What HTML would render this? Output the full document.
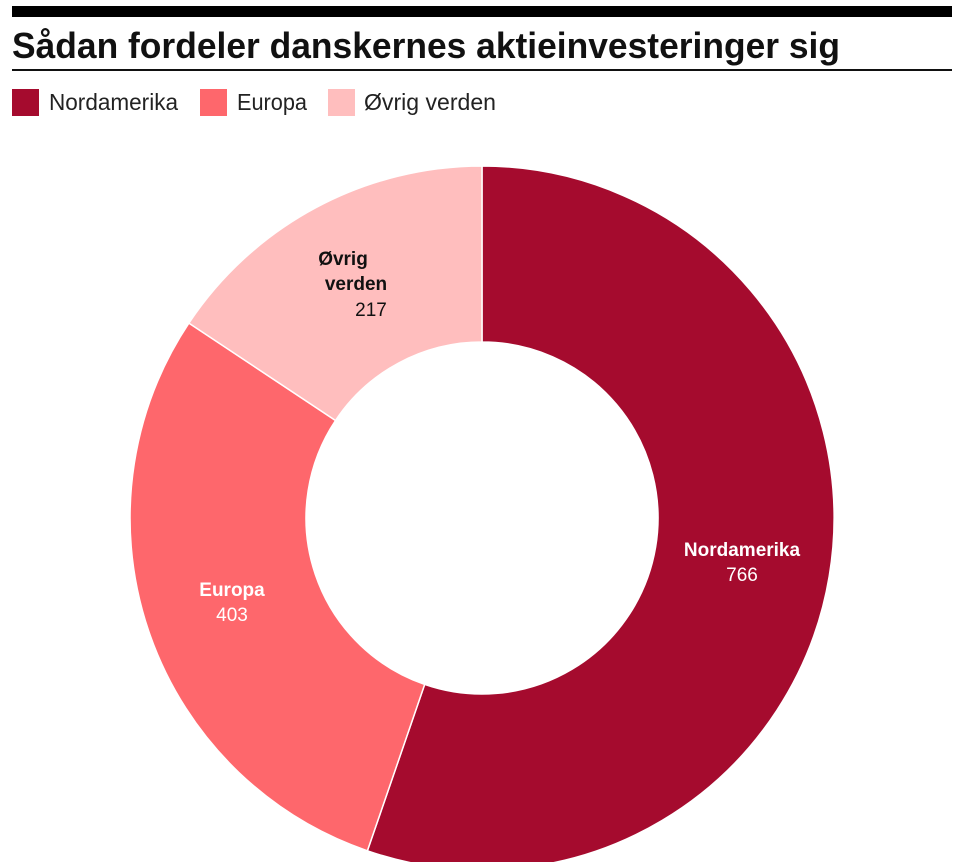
<!DOCTYPE html>
<html><head><meta charset="utf-8"><style>html,body{margin:0;padding:0;background:#fff}svg{display:block}</style></head>
<body>
<svg width="960" height="862" viewBox="0 0 960 862" xmlns="http://www.w3.org/2000/svg" font-family="Liberation Sans, sans-serif">
<rect x="12" y="6" width="940" height="11" fill="#000"/>
<text x="12" y="58" font-size="36" font-weight="bold" fill="#111" textLength="828" lengthAdjust="spacingAndGlyphs">Sådan fordeler danskernes aktieinvesteringer sig</text>
<rect x="12" y="69" width="940" height="2" fill="#111"/>
<rect x="12" y="89" width="27" height="27" fill="#a50b2e"/>
<text x="49" y="110" font-size="23" fill="#222" textLength="129" lengthAdjust="spacingAndGlyphs">Nordamerika</text>
<rect x="200" y="89" width="27" height="27" fill="#fe676c"/>
<text x="237" y="110" font-size="23" fill="#222" textLength="70" lengthAdjust="spacingAndGlyphs">Europa</text>
<rect x="328" y="89" width="27" height="27" fill="#ffbebe"/>
<text x="364" y="110" font-size="23" fill="#222" textLength="132" lengthAdjust="spacingAndGlyphs">Øvrig verden</text>
<g stroke="#fff" stroke-width="1.5">
<path d="M482,166 A352,352 0 1 1 367.4,850.8 L424.7,684.4 A176,176 0 1 0 482,342 Z" fill="#a50b2e"/>
<path d="M367.4,850.8 A352,352 0 0 1 188.9,323.1 L335.5,420.5 A176,176 0 0 0 424.7,684.4 Z" fill="#fe676c"/>
<path d="M188.9,323.1 A352,352 0 0 1 482,166 L482,342 A176,176 0 0 0 335.5,420.5 Z" fill="#ffbebe"/>
</g>
<g font-size="19" text-anchor="middle">
<text x="742" y="556" font-weight="bold" fill="#fff">Nordamerika</text>
<text x="742" y="581" fill="#fff">766</text>
<text x="232" y="596" font-weight="bold" fill="#fff">Europa</text>
<text x="232" y="621" fill="#fff">403</text>
<text x="343" y="265" font-weight="bold" fill="#111">Øvrig</text>
<text x="356" y="290" font-weight="bold" fill="#111">verden</text>
<text x="371" y="316" fill="#111">217</text>
</g>
</svg>
</body></html>
